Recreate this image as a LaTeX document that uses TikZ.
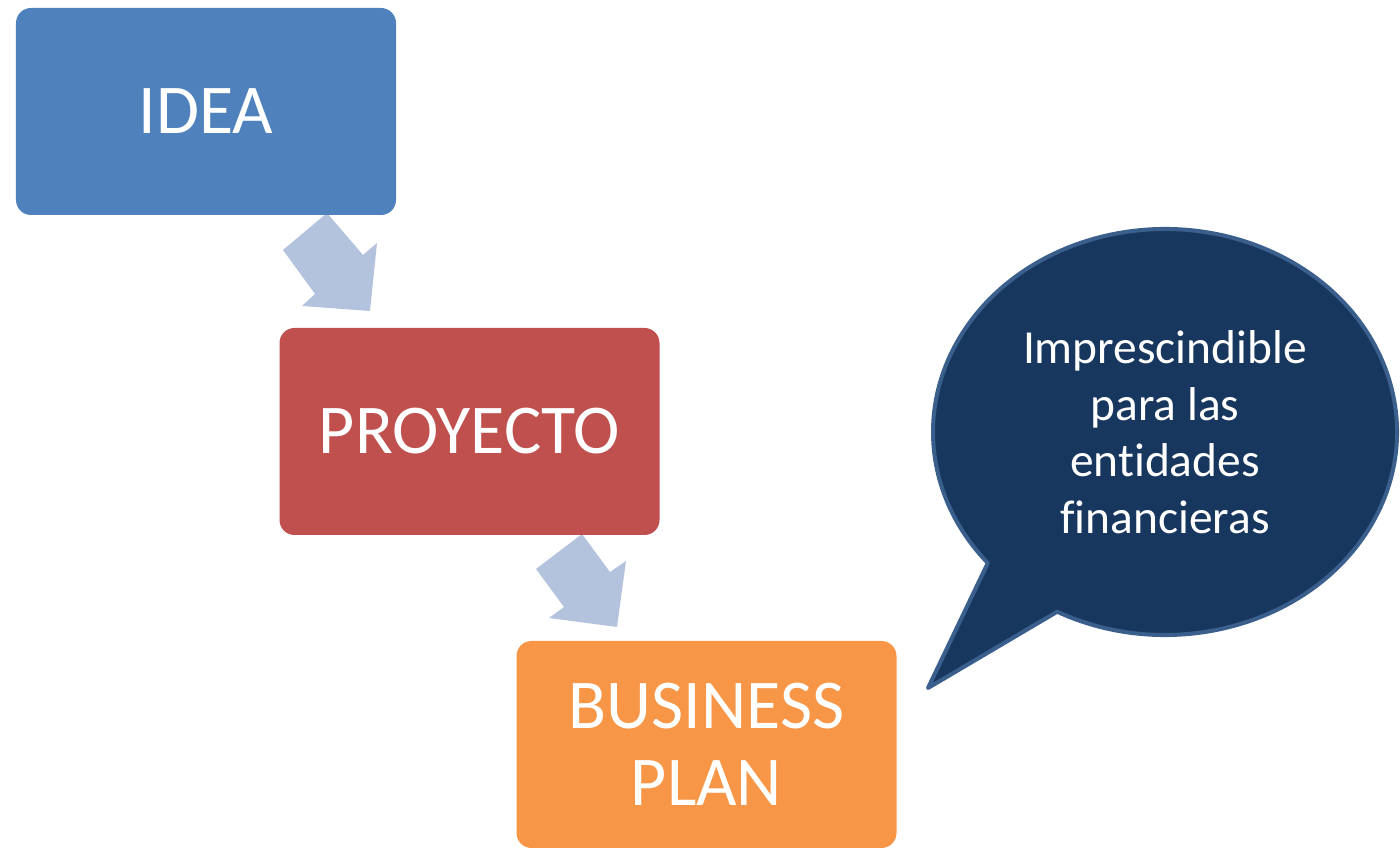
\documentclass[tikz,border=0pt]{standalone}
\usepackage{fontspec}
\setmainfont{Carlito}[Ligatures=CommonOff]
\usepackage{xcolor}
\usepackage{tikz}
\usetikzlibrary{calc}
\definecolor{ideablue}{HTML}{4F81BD}
\definecolor{projred}{HTML}{C0504D}
\definecolor{planorange}{HTML}{F79646}
\definecolor{arrowblue}{HTML}{B3C2DD}
\definecolor{navy}{HTML}{18375E}
\definecolor{navyedge}{HTML}{3A5F8D}
\tikzset{
  stage/.style={rectangle, rounded corners=0.3cm, minimum width=7.6cm, minimum height=4.14cm,
    inner sep=0pt, text=white, align=center, font=\fontsize{39.8}{44}\selectfont},
  blockarrow/.style={fill=arrowblue, draw=none},
  bubble/.style={fill=navy, draw=navyedge, line width=2.3pt, line join=round},
  bubbletext/.style={text=white, align=center, font=\fontsize{27}{32.2}\selectfont}
}

\begin{document}
\begin{tikzpicture}
  \useasboundingbox (0,0) rectangle (28,16.94);
  % arrows behind the boxes
  \fill[blockarrow] (6.54,12.68) -- (7.26,11.84) -- (7.54,12.08) -- (7.40,10.72)
    -- (6.04,10.82) -- (6.30,11.06) -- (5.66,11.94) -- cycle;
  \fill[blockarrow] (11.64,6.26) -- (12.20,5.50) -- (12.52,5.72) -- (12.34,4.40)
    -- (10.98,4.58) -- (11.28,4.80) -- (10.72,5.56) -- cycle;
  % the three stages
  \node[stage, fill=ideablue] (idea) at (4.12,14.71) {IDEA};
  \node[stage, fill=projred] (proyecto) at (9.39,8.31) {PROYECTO};
  \node[stage, fill=planorange] (plan) at (14.13,2.05) {BUSINESS\\PLAN};
  % speech bubble
  \coordinate (bc) at (23.30,8.30);
  \coordinate (tail) at (18.56,3.18);
  \draw[bubble] ($(bc)+(242.3:4.64cm and 4.06cm)$)
    arc[start angle=242.3, end angle=580.2, x radius=4.64cm, y radius=4.06cm]
    -- (tail) -- cycle;
  \node[bubbletext] (nota) at (bc) {Imprescindible\\para las\\entidades\\financieras};
\end{tikzpicture}
\end{document}
